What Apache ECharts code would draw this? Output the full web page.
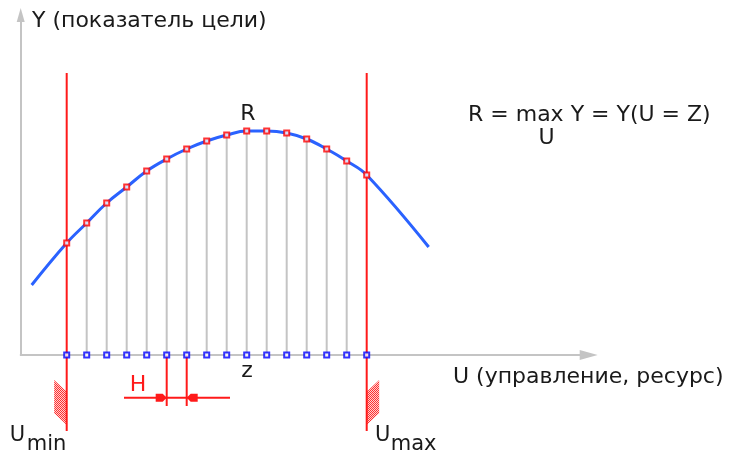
<!DOCTYPE html>
<html>
<head>
<meta charset="utf-8">
<script src="https://cdn.jsdelivr.net/npm/echarts@6/dist/echarts.min.js"></script>
<style>
  html, body { margin: 0; padding: 0; background: #fff; }
  #main { width: 733px; height: 456px; }
</style>
</head>
<body>
<div id="main"></div>
<script>
// узлы сетки по U (шаг H = 1) и значения Y в узлах
const nodeU = [0, 1, 2, 3, 4, 5, 6, 7, 8, 9, 10, 11, 12, 13, 14, 15];
const nodeY = [11.2, 13.2, 15.2, 16.8, 18.4, 19.6, 20.6, 21.4, 22.0, 22.4, 22.4, 22.2, 21.6, 20.6, 19.4, 18.0];
// концы кривой за пределами [Umin, Umax]
const curveStart = [-1.75, 7.0];
const curveEnd = [18.1, 10.8];
const uMin = 0;
const uMax = 15;
const zNode = 9;          // узел с максимумом (U = Z)
const hStep = [5, 6];     // пара узлов для обозначения шага H

const RED = "#ff1a1a";
const GRAY = "#c4c4c4";
const FONT = '"DejaVu Sans", sans-serif';

// штриховка ограничений (мелкая красная сетка)
const hatch = document.createElement("canvas");
hatch.width = 2;
hatch.height = 2;
const hc = hatch.getContext("2d");
hc.fillStyle = "#ffd0d0";
hc.fillRect(0, 0, 2, 2);
hc.fillStyle = "#ff3030";
hc.fillRect(0, 0, 1, 1);
hc.fillRect(1, 1, 1, 1);
const hatchFill = { image: hatch, repeat: "repeat" };

const curveData = [curveStart].concat(nodeU.map((u, i) => [u, nodeY[i]]), [curveEnd]);
const innerNodes = nodeU.slice(1, -1).map((u, i) => [u, nodeY[i + 1]]);

const txt = (x, y, text, size, color, align) => ({
  type: "text",
  x: x,
  y: y,
  style: {
    text: text,
    fill: color || "#1a1a1a",
    font: size + "px " + FONT,
    align: align || "left",
    verticalAlign: "middle",
  },
});

var myChart = echarts.init(document.getElementById("main"));
myChart.setOption({
  animation: false,
  grid: { left: 20.7, right: 144.3, top: 15, bottom: 101, outerBoundsMode: "none" },
  xAxis: {
    type: "value",
    min: -2.3,
    max: 26.1,
    axisLine: {
      show: true,
      onZero: false,
      symbol: ["none", "triangle"],
      symbolSize: [10, 18],
      lineStyle: { color: GRAY, width: 2 },
    },
    axisTick: { show: false },
    axisLabel: { show: false },
    splitLine: { show: false },
  },
  yAxis: {
    type: "value",
    min: 0,
    max: 34,
    axisLine: {
      show: true,
      onZero: false,
      symbol: ["none", "triangle"],
      symbolSize: [8, 14],
      lineStyle: { color: GRAY, width: 2 },
    },
    axisTick: { show: false },
    axisLabel: { show: false },
    splitLine: { show: false },
  },
  graphic: [
    txt(32, 21, "Y (показатель цели)", 22),
    txt(453, 377, "U (управление, ресурс)", 22),
    txt(468, 115, "R = max Y = Y(U = Z)", 22),
    txt(546.5, 138, "U", 22, null, "center"),
  ],
  series: [
    {
      // вертикали от узлов до кривой
      type: "custom",
      data: innerNodes,
      renderItem: function (params, api) {
        var p0 = api.coord([api.value(0), 0]);
        var p1 = api.coord([api.value(0), api.value(1)]);
        return {
          type: "line",
          shape: { x1: p0[0], y1: p0[1], x2: p1[0], y2: p1[1] },
          style: { stroke: GRAY, lineWidth: 2 },
        };
      },
    },
    {
      // границы Umin / Umax со штриховкой
      type: "custom",
      data: [[uMin, -1], [uMax, 1]],
      renderItem: function (params, api) {
        var side = api.value(1);
        var top = api.coord([api.value(0), 28.2]);
        var p = api.coord([api.value(0), 0]);
        var x = p[0], y = p[1];
        var w = 12.5 * side;
        return {
          type: "group",
          children: [
            {
              type: "polygon",
              shape: { points: [[x + w, y + 25], [x, y + 36.7], [x, y + 70], [x + w, y + 58.3]] },
              style: { fill: hatchFill },
            },
            {
              type: "line",
              shape: { x1: x, y1: top[1], x2: x, y2: y + 76 },
              style: { stroke: RED, lineWidth: 2 },
            },
          ],
        };
      },
    },
    {
      type: "line",
      data: curveData,
      smooth: 0.4,
      showSymbol: false,
      lineStyle: { color: "#2a62ff", width: 3 },
      z: 3,
    },
    {
      type: "scatter",
      data: nodeU.map((u, i) => [u, nodeY[i]]),
      symbol: "rect",
      symbolSize: 5,
      itemStyle: { color: "#fff", borderColor: "#ff0000", borderWidth: 2 },
      z: 4,
    },
    {
      // обозначение шага H
      type: "custom",
      data: [hStep],
      renderItem: function (params, api) {
        var a = api.coord([api.value(0), 0]);
        var b = api.coord([api.value(1), 0]);
        var y = a[1];
        var ly = y + 42.7;
        return {
          type: "group",
          children: [
            { type: "line", shape: { x1: a[0], y1: y, x2: a[0], y2: y + 51 }, style: { stroke: RED, lineWidth: 2 } },
            { type: "line", shape: { x1: b[0], y1: y, x2: b[0], y2: y + 51 }, style: { stroke: RED, lineWidth: 2 } },
            { type: "line", shape: { x1: a[0] - 42.7, y1: ly, x2: b[0] + 43.3, y2: ly }, style: { stroke: RED, lineWidth: 2 } },
            {
              type: "polygon",
              shape: { points: [[a[0] - 11, ly - 4], [a[0] - 4, ly - 4], [a[0], ly], [a[0] - 4, ly + 4], [a[0] - 11, ly + 4]] },
              style: { fill: RED },
            },
            {
              type: "polygon",
              shape: { points: [[b[0] + 11, ly - 4], [b[0] + 4, ly - 4], [b[0], ly], [b[0] + 4, ly + 4], [b[0] + 11, ly + 4]] },
              style: { fill: RED },
            },
            txt(a[0] - 28.7, y + 30, "H", 22, RED, "center"),
          ],
        };
      },
    },
    {
      type: "scatter",
      data: nodeU.map((u) => [u, 0]),
      symbol: "rect",
      symbolSize: 5,
      itemStyle: { color: "#fff", borderColor: "#0000ff", borderWidth: 2 },
      z: 5,
    },
    {
      // подписи R, z, Umin, Umax
      type: "custom",
      data: [[zNode, nodeY[zNode]]],
      renderItem: function (params, api) {
        var r = api.coord([api.value(0), api.value(1)]);
        var z = api.coord([api.value(0), 0]);
        var lo = api.coord([uMin, 0]);
        var hi = api.coord([uMax, 0]);
        return {
          type: "group",
          children: [
            txt(r[0] + 1.3, r[1] - 17, "R", 22, null, "center"),
            txt(z[0] + 0.3, z[1] + 16, "z", 22, null, "center"),
            txt(lo[0] - 41.5, lo[1] + 80.5, "U", 21, null, "right"),
            txt(lo[0] - 40, lo[1] + 89.5, "min", 21),
            txt(hi[0] + 8.3, hi[1] + 80.5, "U", 21),
            txt(hi[0] + 24, hi[1] + 89.5, "max", 21),
          ],
        };
      },
    },
  ],
});
</script>
</body>
</html>
